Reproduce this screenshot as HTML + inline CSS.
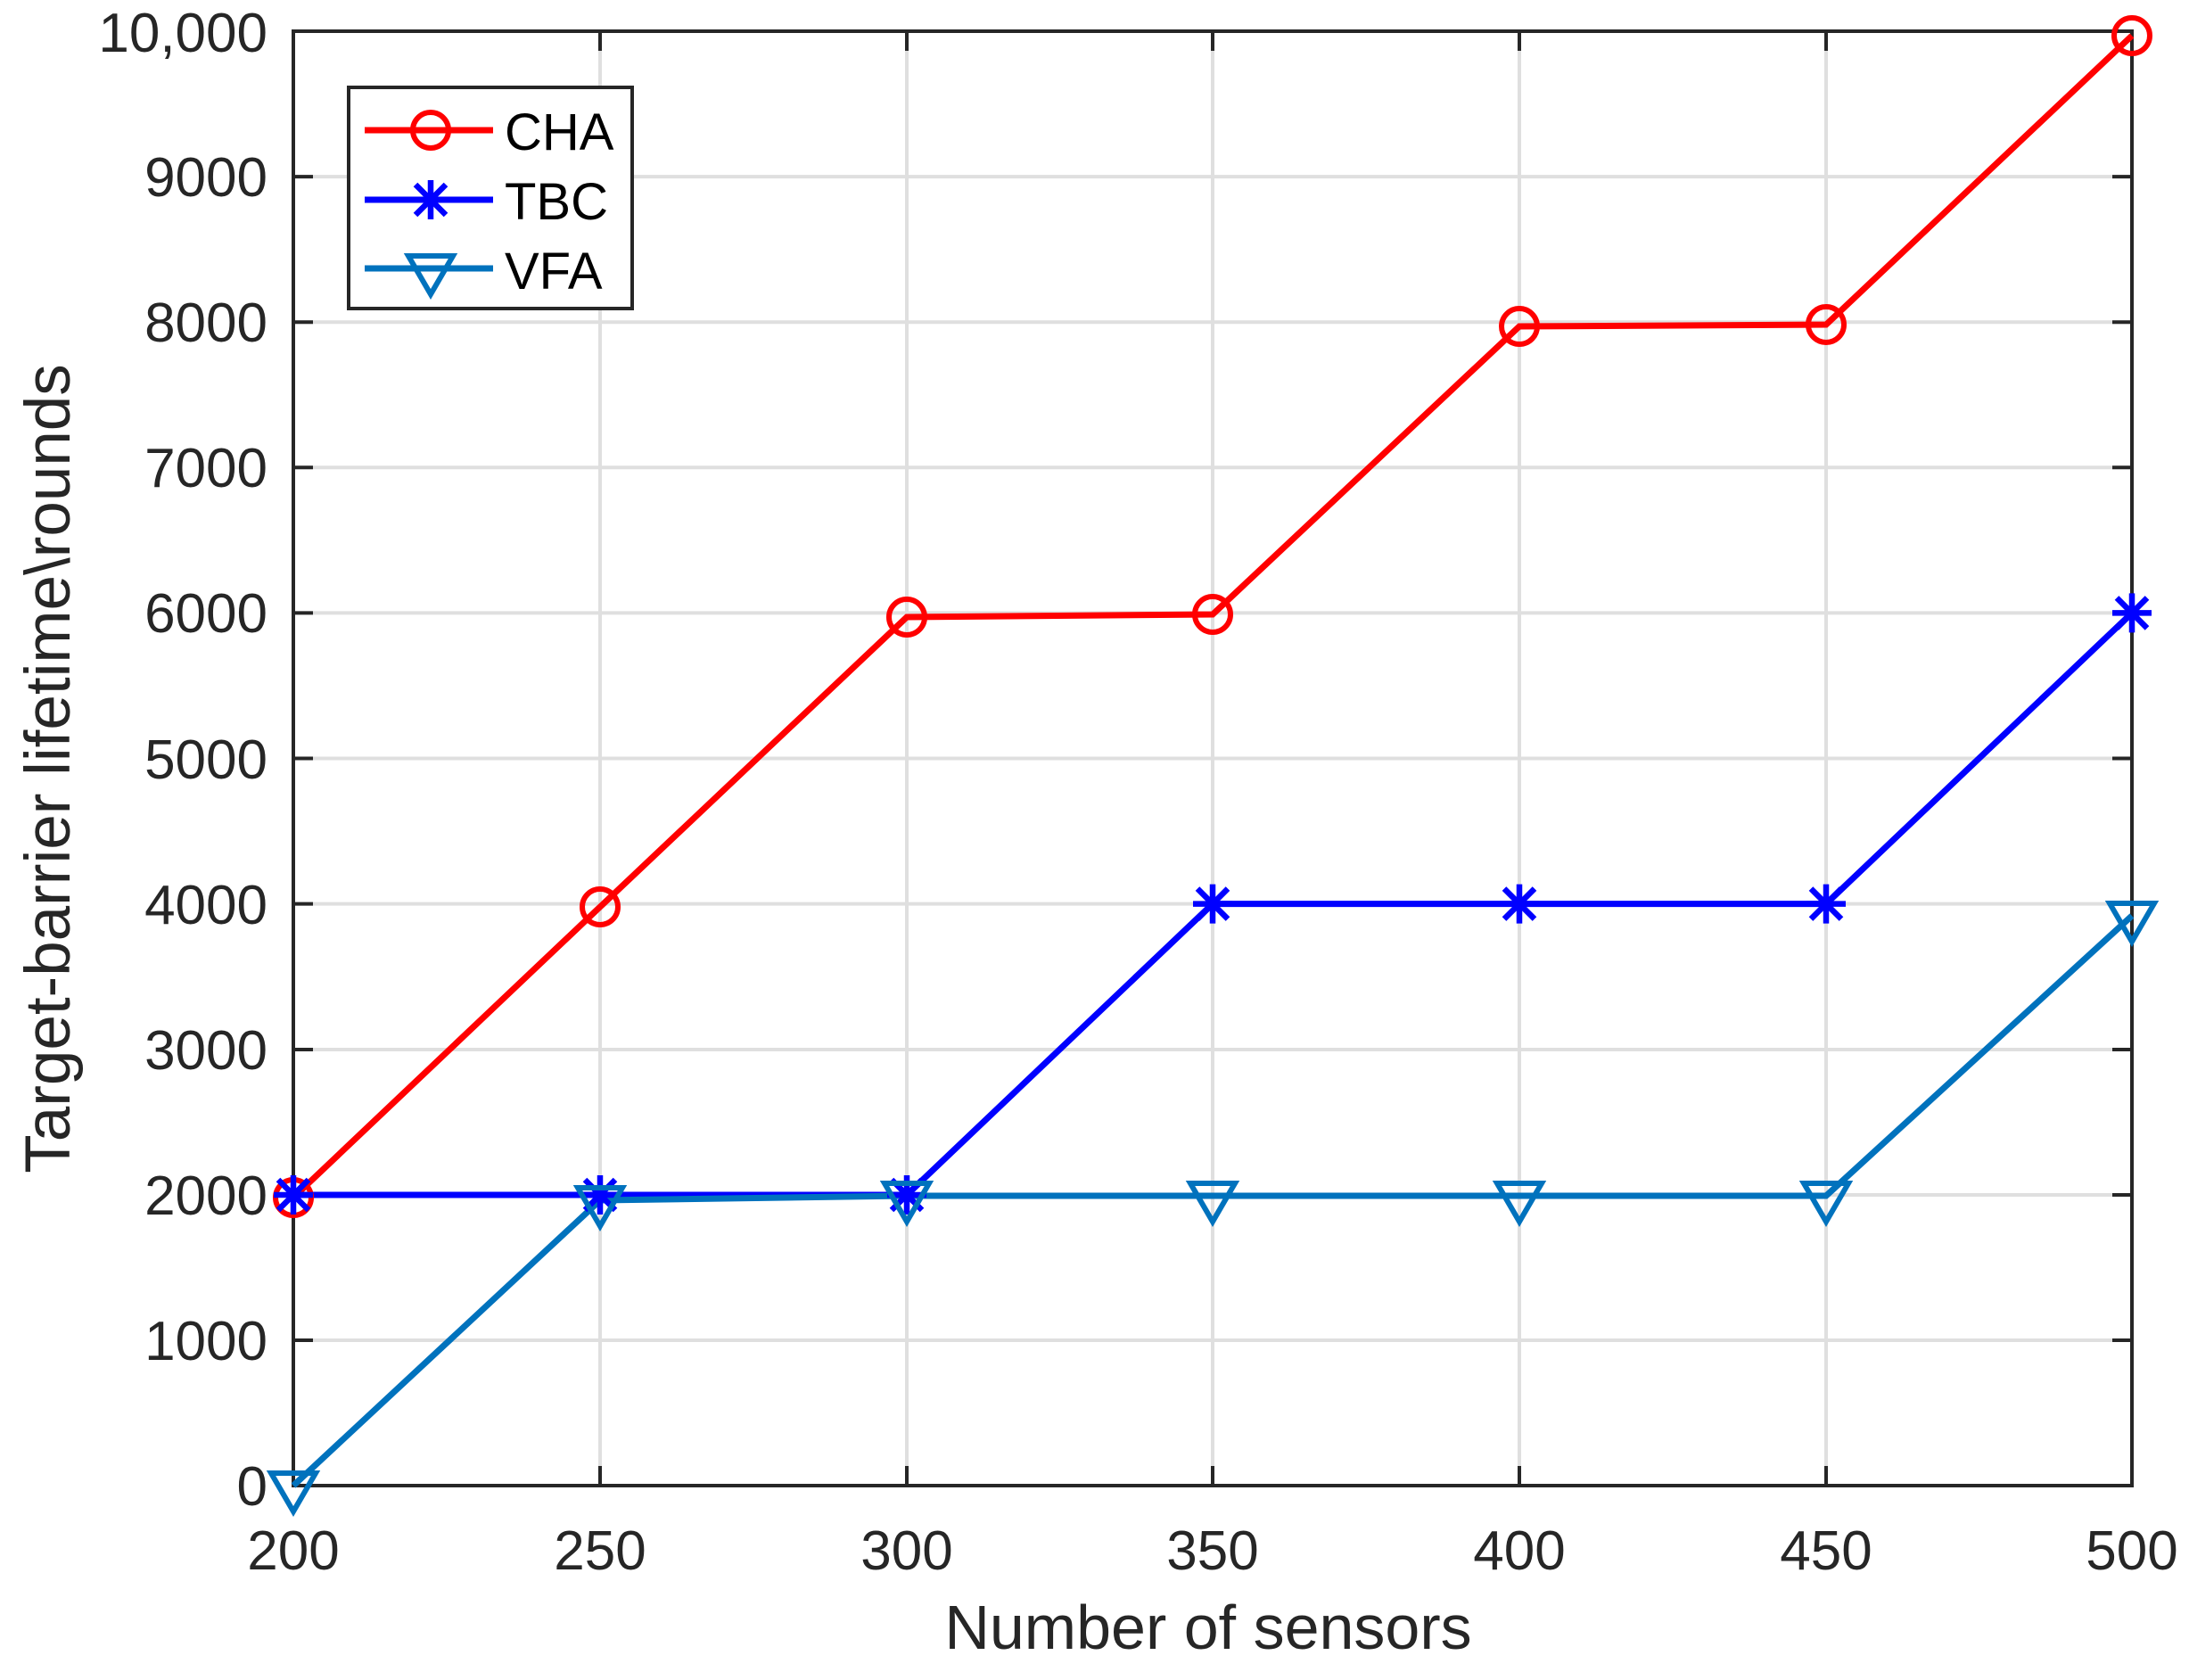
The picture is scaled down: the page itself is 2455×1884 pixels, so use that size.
<!DOCTYPE html>
<html><head><meta charset="utf-8"><style>html,body{margin:0;padding:0;background:#fff}svg{display:block}</style></head>
<body>
<svg width="2455" height="1884" viewBox="0 0 2455 1884" xmlns="http://www.w3.org/2000/svg" font-family="Liberation Sans, sans-serif">
<rect width="2455" height="1884" fill="#fff"/>
<defs>
<g id="circ"><circle r="20" fill="none" stroke="#ff0000" stroke-width="6"/></g>
<g id="ast" stroke="#0000ff" stroke-width="6.5"><line x1="-22" y1="0" x2="22" y2="0"/><line x1="0" y1="-22" x2="0" y2="22"/><line x1="-17" y1="-17" x2="17" y2="17"/><line x1="-17" y1="17" x2="17" y2="-17"/></g>
<g id="tri"><polygon points="-25,-14 25,-14 0,29" fill="none" stroke="#0072bd" stroke-width="6"/></g>
</defs>
<g stroke="#dfdfdf" stroke-width="4">
<line x1="673" y1="35" x2="673" y2="1666"/><line x1="1017" y1="35" x2="1017" y2="1666"/><line x1="1360" y1="35" x2="1360" y2="1666"/><line x1="1704" y1="35" x2="1704" y2="1666"/><line x1="2048" y1="35" x2="2048" y2="1666"/>
<line x1="329" y1="1503" x2="2391" y2="1503"/><line x1="329" y1="1340" x2="2391" y2="1340"/><line x1="329" y1="1177" x2="2391" y2="1177"/><line x1="329" y1="1013.6" x2="2391" y2="1013.6"/><line x1="329" y1="850.5" x2="2391" y2="850.5"/><line x1="329" y1="687.4" x2="2391" y2="687.4"/><line x1="329" y1="524.3" x2="2391" y2="524.3"/><line x1="329" y1="361.2" x2="2391" y2="361.2"/><line x1="329" y1="198.1" x2="2391" y2="198.1"/>
</g>
<g stroke="#262626" stroke-width="4">
<path d="M673,1666v-22M1017,1666v-22M1360,1666v-22M1704,1666v-22M2048,1666v-22M673,35v22M1017,35v22M1360,35v22M1704,35v22M2048,35v22"/>
<path d="M329,1503h22M329,1340h22M329,1177h22M329,1013.6h22M329,850.5h22M329,687.4h22M329,524.3h22M329,361.2h22M329,198.1h22"/>
<path d="M2391,1503h-22M2391,1340h-22M2391,1177h-22M2391,1013.6h-22M2391,850.5h-22M2391,687.4h-22M2391,524.3h-22M2391,361.2h-22M2391,198.1h-22"/>
<rect x="329" y="35" width="2062" height="1631" fill="none"/>
</g>
<g font-size="62" fill="#262626" text-anchor="end">
<text x="300" y="1688">0</text><text x="300" y="1525">1000</text><text x="300" y="1362">2000</text><text x="300" y="1199">3000</text><text x="300" y="1036">4000</text><text x="300" y="873">5000</text><text x="300" y="709">6000</text><text x="300" y="546">7000</text><text x="300" y="383">8000</text><text x="300" y="220">9000</text><text x="300" y="58">10,000</text>
</g>
<g font-size="62" fill="#262626" text-anchor="middle">
<text x="329" y="1760">200</text><text x="673" y="1760">250</text><text x="1017" y="1760">300</text><text x="1360" y="1760">350</text><text x="1704" y="1760">400</text><text x="2048" y="1760">450</text><text x="2391" y="1760">500</text>
<text x="1355" y="1849" font-size="70">Number of sensors</text>
<text transform="translate(78,862) rotate(-90)" font-size="71">Target-barrier lifetime\rounds</text>
</g>
<polyline fill="none" stroke="#ff0000" stroke-width="7" points="329,1343 673,1017 1017,692 1360,689 1704,366 2048,364 2391,40"/>
<polyline fill="none" stroke="#0000ff" stroke-width="7" points="329,1340 673,1340 1017,1340 1360,1013.6 1704,1013.6 2048,1013.6 2391,687.4"/>
<polyline fill="none" stroke="#0072bd" stroke-width="7" points="329,1666 673,1346 1017,1341 1360,1341 1704,1341 2048,1341 2391,1027"/>
<use href="#circ" x="329" y="1343"/><use href="#circ" x="673" y="1017"/><use href="#circ" x="1017" y="692"/><use href="#circ" x="1360" y="689"/><use href="#circ" x="1704" y="366"/><use href="#circ" x="2048" y="364"/><use href="#circ" x="2391" y="40"/>
<use href="#ast" x="329" y="1340"/><use href="#ast" x="673" y="1340"/><use href="#ast" x="1017" y="1340"/><use href="#ast" x="1360" y="1013.6"/><use href="#ast" x="1704" y="1013.6"/><use href="#ast" x="2048" y="1013.6"/><use href="#ast" x="2391" y="687.4"/>
<use href="#tri" x="329" y="1666"/><use href="#tri" x="673" y="1346"/><use href="#tri" x="1017" y="1341"/><use href="#tri" x="1360" y="1341"/><use href="#tri" x="1704" y="1341"/><use href="#tri" x="2048" y="1341"/><use href="#tri" x="2391" y="1027"/>
<rect x="391" y="98" width="318" height="248" fill="#fff" stroke="#262626" stroke-width="4"/>
<line x1="409" y1="146" x2="553" y2="146" stroke="#ff0000" stroke-width="7"/><use href="#circ" x="483" y="146"/>
<line x1="409" y1="224" x2="553" y2="224" stroke="#0000ff" stroke-width="7"/><use href="#ast" x="483" y="224"/>
<line x1="409" y1="301" x2="553" y2="301" stroke="#0072bd" stroke-width="7"/><use href="#tri" x="483" y="301"/>
<g font-size="58" fill="#000"><text x="566" y="168">CHA</text><text x="566" y="246">TBC</text><text x="566" y="324">VFA</text></g>
</svg>
</body></html>
